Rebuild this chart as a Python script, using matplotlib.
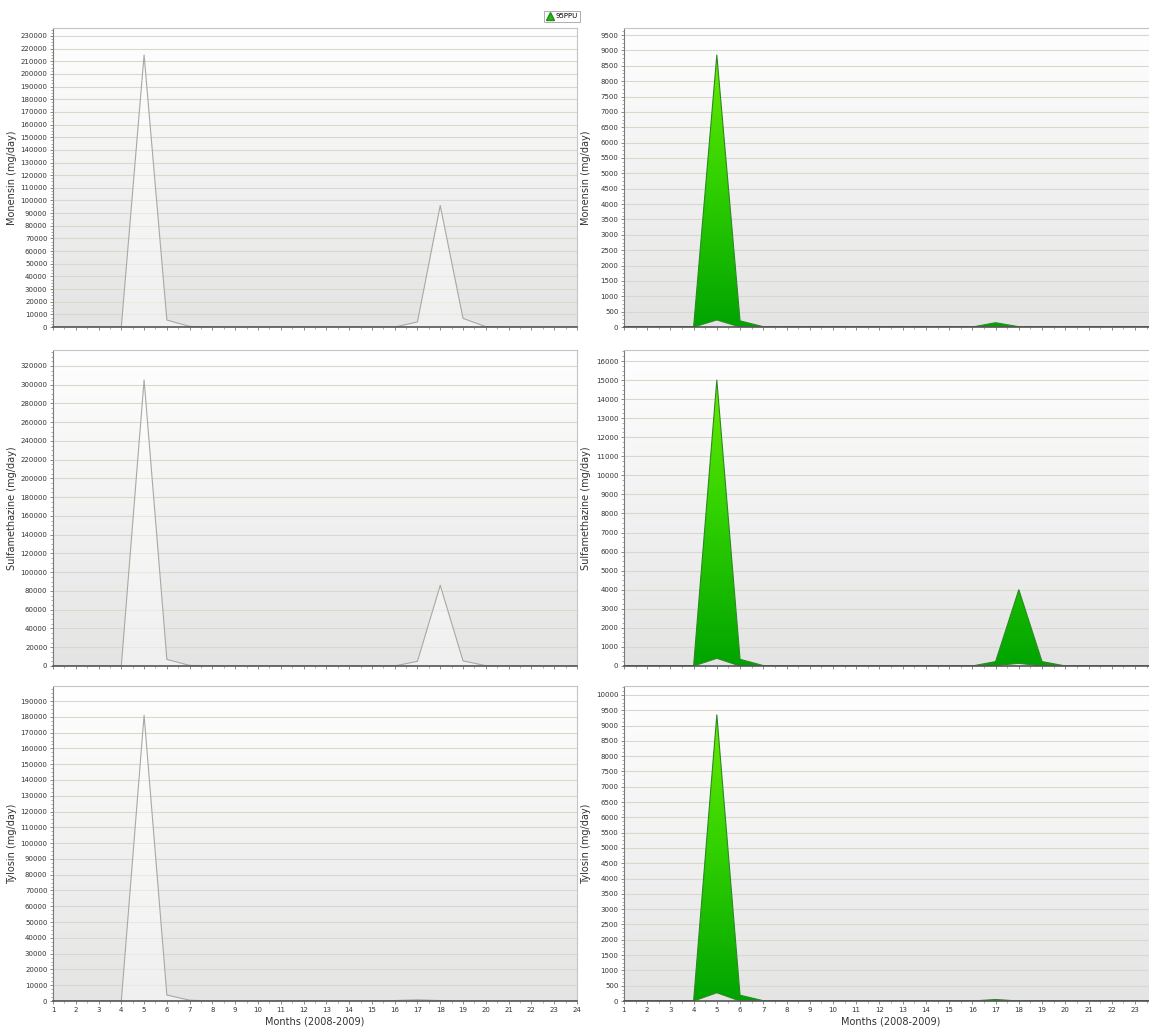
"""Monthly antibiotic loads 2008-2009: simulated series (left) and 95PPU band (right)."""

import matplotlib.pyplot as plt
import numpy as np
from matplotlib.colors import LinearSegmentedColormap
from matplotlib.lines import Line2D
from matplotlib.ticker import AutoMinorLocator, MultipleLocator


MONTHS = list(range(1, 25))
DRUGS = ["Monensin", "Sulfamethazine", "Tylosin"]

# left column: single simulated series (mg/day)
MONENSIN_SIM = [0, 0, 0, 0, 215000, 5500, 500, 0, 0, 0, 0, 0,
                0, 0, 0, 0, 4000, 96000, 6800, 300, 0, 0, 0, 0]
SULFA_SIM = [0, 0, 0, 0, 305000, 7000, 600, 0, 0, 0, 0, 0,
             0, 0, 0, 0, 5000, 86000, 5500, 300, 0, 0, 0, 0]
TYLOSIN_SIM = [0, 0, 0, 0, 181000, 3800, 500, 0, 0, 0, 0, 0,
               0, 0, 0, 300, 800, 300, 0, 0, 0, 0, 0, 0]

# right column: 95PPU band, upper and lower bounds (mg/day)
MONENSIN_UP = [0, 0, 0, 0, 8850, 200, 10, 0, 0, 0, 0, 0,
               0, 0, 0, 0, 140, 10, 0, 0, 0, 0, 0, 0]
MONENSIN_LO = [0, 0, 0, 0, 230, 0, 0, 0, 0, 0, 0, 0,
               0, 0, 0, 0, 10, 0, 0, 0, 0, 0, 0, 0]
SULFA_UP = [0, 0, 0, 0, 15000, 350, 20, 0, 0, 0, 0, 0,
            0, 0, 0, 0, 230, 4000, 230, 0, 0, 0, 0, 0]
SULFA_LO = [0, 0, 0, 0, 400, 0, 0, 0, 0, 0, 0, 0,
            0, 0, 0, 0, 20, 140, 0, 0, 0, 0, 0, 0]
TYLOSIN_UP = [0, 0, 0, 0, 9350, 190, 10, 0, 0, 0, 0, 0,
              0, 0, 0, 0, 50, 0, 0, 0, 0, 0, 0, 0]
TYLOSIN_LO = [0, 0, 0, 0, 270, 0, 0, 0, 0, 0, 0, 0,
              0, 0, 0, 0, 0, 0, 0, 0, 0, 0, 0, 0]

INK = "#333333"
EDGE_GREEN = "#2a8a22"
BG_CMAP = LinearSegmentedColormap.from_list("bg", ["#e4e4e4", "#ffffff"])
GREEN_CMAP = LinearSegmentedColormap.from_list("band", ["#00a400", "#33d200", "#74f000"])


def _style(ax, ymax, step, label, label_x, show_xlabels):
    grad = np.linspace(0, 1, 256).reshape(-1, 1)
    ax.imshow(grad, extent=[0, 1, 0, 1], transform=ax.transAxes, cmap=BG_CMAP,
              aspect="auto", origin="lower", zorder=0)
    ax.set_xlim(1, 24)
    ax.set_ylim(0, ymax)
    ax.set_xticks(MONTHS)
    ax.yaxis.set_major_locator(MultipleLocator(step))
    ax.yaxis.set_minor_locator(AutoMinorLocator(4))
    ax.xaxis.set_minor_locator(AutoMinorLocator(2))
    ax.tick_params(labelsize=5, length=2.5, width=0.6, color="#777777",
                   labelcolor=INK, pad=1.5)
    ax.tick_params(which="minor", length=1.5, width=0.5, color="#888888")
    if not show_xlabels:
        ax.tick_params(axis="x", labelbottom=False)
    ax.grid(axis="y", color="#d8d8cc", linewidth=0.8)
    for side in ("top", "right"):
        ax.spines[side].set_color("#c4c4c4")
        ax.spines[side].set_linewidth(0.8)
    ax.spines["left"].set_color("#7a7a7a")
    ax.spines["bottom"].set_color("#555555")
    ax.spines["bottom"].set_linewidth(1.2)
    ax.set_ylabel(f"{label} (mg/day)", fontsize=7, color=INK)
    ax.yaxis.set_label_coords(label_x, 0.5)
    if show_xlabels:
        ax.set_xlabel("Months (2008-2009)", fontsize=7, color=INK, labelpad=3)


def _series(ax, values):
    ax.fill_between(MONTHS, 0, values, facecolor="white", alpha=0.45, zorder=2)
    ax.plot(MONTHS, values, color="#a9a9a0", linewidth=0.8, zorder=2.2)


def _band(ax, lower, upper, ymax):
    # edge sits under the bottom spine so the flat zero stretch stays gray
    poly = ax.fill_between(MONTHS, lower, upper, facecolor="none",
                           edgecolor=EDGE_GREEN, linewidth=0.8, zorder=2.4)
    grad = np.linspace(0, 1, 256).reshape(-1, 1)
    img = ax.imshow(grad, extent=[1, 24, 0, ymax], cmap=GREEN_CMAP,
                    aspect="auto", origin="lower", zorder=2.2)
    img.set_clip_path(poly.get_paths()[0], transform=ax.transData)


def main():
    plt.rcParams["font.family"] = "DejaVu Sans"
    fig = plt.figure(figsize=(11.49, 10.29), dpi=100)

    sims = [MONENSIN_SIM, SULFA_SIM, TYLOSIN_SIM]
    bands = [(MONENSIN_LO, MONENSIN_UP), (SULFA_LO, SULFA_UP), (TYLOSIN_LO, TYLOSIN_UP)]
    rows = [(0.6822, 0.2906), (0.3528, 0.3071), (0.0272, 0.3061)]
    left_lim = [(236300, 10000), (337000, 20000), (199500, 10000)]
    right_lim = [(9730, 500), (16580, 1000), (10290, 500)]

    for i, drug in enumerate(DRUGS):
        y0, h = rows[i]
        last = i == len(DRUGS) - 1

        ax = fig.add_axes([0.0461, y0, 0.456, h])
        _style(ax, left_lim[i][0], left_lim[i][1], drug, -0.069, last)
        _series(ax, sims[i])

        ax = fig.add_axes([0.543, y0, 0.465, h])
        _style(ax, right_lim[i][0], right_lim[i][1], drug, -0.062, last)
        _band(ax, bands[i][0], bands[i][1], right_lim[i][0])
        ax.set_xlim(1, 24)
        ax.set_ylim(0, right_lim[i][0])

    handle = Line2D([], [], linestyle="none", marker="^", markersize=6,
                    markerfacecolor="#22bb11", markeredgecolor=EDGE_GREEN)
    leg = fig.legend([handle], ["95PPU"], loc="center", bbox_to_anchor=(0.489, 0.984),
                     fontsize=5, frameon=True, fancybox=False, handlelength=1.0,
                     handletextpad=0.3, borderpad=0.35)
    leg.get_frame().set_edgecolor("#9a9a9a")
    leg.get_frame().set_linewidth(0.7)

    fig.savefig("out.png", dpi=100)
    plt.close(fig)


if __name__ == "__main__":
    main()
